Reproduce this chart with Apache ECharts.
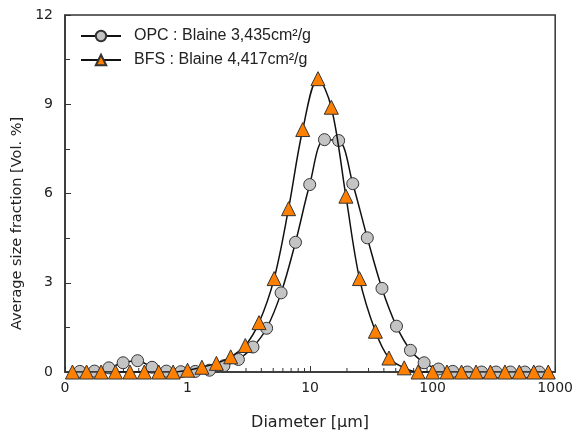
<!DOCTYPE html>
<html>
<head>
<meta charset="utf-8">
<script src="https://cdn.jsdelivr.net/npm/echarts@6/dist/echarts.min.js"></script>
<style>
html,body{margin:0;padding:0;background:#fff;}
#chart{width:576px;height:439px;}
</style>
</head>
<body>
<div id="chart"></div>
<script>
// ---- data ----
var opcName = 'OPC : Blaine 3,435cm\u00b2/g';
var bfsName = 'BFS : Blaine 4,417cm\u00b2/g';

var opcDiameter = [0.132, 0.174, 0.228, 0.298, 0.391, 0.513, 0.672, 0.881, 1.155, 1.51, 1.98, 2.60, 3.42, 4.42, 5.80, 7.60, 9.93, 13.1, 17.1, 22.3, 29.3, 38.6, 50.7, 65.9, 85.2, 111.7, 146, 192, 251, 329, 431, 565, 740];
var opcValue    = [0.02, 0.03, 0.14, 0.31, 0.38, 0.16, 0.03, 0.01, 0.02, 0.06, 0.21, 0.42, 0.84, 1.47, 2.66, 4.36, 6.30, 7.81, 7.78, 6.33, 4.51, 2.81, 1.54, 0.73, 0.31, 0.10, 0.02, 0, 0, 0, 0, 0, 0];

var bfsDiameter = [0.115, 0.150, 0.197, 0.258, 0.339, 0.444, 0.582, 0.763, 1.00, 1.31, 1.72, 2.25, 2.96, 3.83, 5.09, 6.67, 8.71, 11.6, 14.9, 19.6, 25.3, 34.1, 44.0, 58.6, 76.1, 99.8, 131, 172, 226, 296, 389, 510, 669, 878];
var bfsValue    = [0, 0, 0, 0, 0, 0, 0, 0, 0.06, 0.16, 0.29, 0.51, 0.89, 1.66, 3.14, 5.49, 8.15, 9.86, 8.90, 5.91, 3.14, 1.37, 0.47, 0.14, 0, 0, 0, 0, 0, 0, 0, 0, 0, 0];

var xTickValues = [0.1, 1, 10, 100, 1000];
var xTickLabels = ['0', '1', '10', '100', '1000'];
var xMinorTicks = [0.2,0.3,0.4,0.5,0.6,0.7,0.8,0.9, 2,3,4,5,6,7,8,9, 20,30,40,50,60,70,80,90, 200,300,400,500,600,700,800,900];
var yTickLabels = ['0', '3', '6', '9', '12'];

var chart = echarts.init(document.getElementById('chart'), null, {renderer: 'canvas'});

function pair(xs, ys) { return xs.map(function (x, i) { return [x, ys[i]]; }); }

var axisFont = 'Tahoma, "DejaVu Sans", sans-serif';

var option = {
  animation: false,
  backgroundColor: '#ffffff',
  grid: { left: 65, right: 19, top: 15, bottom: 67, show: true, borderColor: '#333', borderWidth: 1.5, backgroundColor: 'transparent' },
  legend: {
    data: [opcName, bfsName],
    orient: 'vertical',
    left: 80, top: 28, padding: 0,
    itemWidth: 40, itemHeight: 13, itemGap: 8,
    textStyle: { fontFamily: '"Liberation Sans", Arial, sans-serif', fontSize: 16, color: '#222', padding: [0, 0, 0, 8] }
  },
  xAxis: {
    type: 'log', logBase: 10, min: 0.1, max: 1000,
    name: 'Diameter [\u03bcm]', nameLocation: 'middle', nameGap: 43,
    nameTextStyle: { fontFamily: axisFont, fontSize: 16, color: '#222' },
    axisLine: { show: true, lineStyle: { color: '#333', width: 1.5 } },
    axisTick: { show: true, inside: true, length: 6, lineStyle: { color: '#333', width: 1 } },
    splitLine: { show: false },
    axisLabel: {
      margin: 9, fontFamily: axisFont, fontSize: 14, color: '#222',
      formatter: function (v) {
        for (var i = 0; i < xTickValues.length; i++) {
          if (Math.abs(Math.log10(v) - Math.log10(xTickValues[i])) < 1e-6) return xTickLabels[i];
        }
        return '';
      }
    }
  },
  yAxis: {
    type: 'value', min: 0, max: 12, interval: 3,
    name: 'Average size fraction [Vol. %]', nameLocation: 'middle', nameGap: 36,
    nameTextStyle: { fontFamily: axisFont, fontSize: 14.5, color: '#222', padding: [0, 60, 0, 0] },
    axisLine: { show: true, lineStyle: { color: '#333', width: 1.5 } },
    axisTick: { show: true, inside: true, length: 6, lineStyle: { color: '#333', width: 1 } },
    minorTick: { show: true, splitNumber: 2, length: 5, lineStyle: { color: '#333', width: 1 } },
    splitLine: { show: false },
    axisLabel: {
      margin: 12, fontFamily: axisFont, fontSize: 14, color: '#222',
      formatter: function (v) { return yTickLabels[Math.round(v / 3)]; }
    }
  },
  series: [
    {
      name: 'minor', type: 'custom', silent: true, z: 1,
      data: xMinorTicks.map(function (v) { return [v, 0]; }),
      renderItem: function (params, api) {
        var p = api.coord([api.value(0), 0]);
        return { type: 'line', shape: { x1: p[0], y1: p[1], x2: p[0], y2: p[1] - 4 }, style: { stroke: '#333', lineWidth: 1 } };
      }
    },
    {
      name: opcName, type: 'line', data: pair(opcDiameter, opcValue),
      smooth: 0.35, showAllSymbol: true, symbol: 'circle', symbolSize: 12,
      itemStyle: { color: '#c4c4c4', borderColor: '#333', borderWidth: 1 },
      lineStyle: { color: '#111', width: 1.5 }, z: 3
    },
    {
      name: bfsName, type: 'line', data: pair(bfsDiameter, bfsValue),
      smooth: 0.35, showAllSymbol: true, symbol: 'triangle', symbolSize: 14,
      itemStyle: { color: '#ff8000', borderColor: '#333', borderWidth: 1 },
      lineStyle: { color: '#111', width: 1.5 }, z: 4
    }
  ]
};
chart.setOption(option);
</script>
</body>
</html>
